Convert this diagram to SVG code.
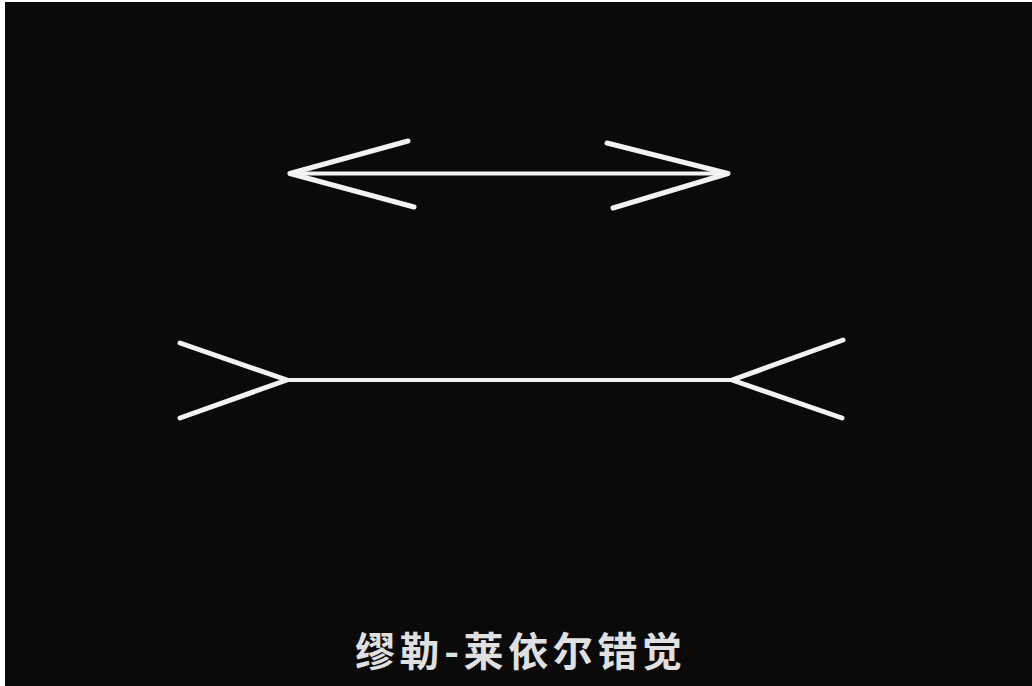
<svg xmlns="http://www.w3.org/2000/svg" width="1032" height="686" viewBox="0 0 1032 686">
<style>
.ln{stroke:#f2f2f2;stroke-linecap:round;stroke-linejoin:round;fill:none}
.fin{stroke-width:5}
.shaft{stroke-width:4}
.cap{font-family:"Noto Sans CJK SC","Noto Sans",sans-serif;font-size:40px;font-weight:bold;fill:#e0e0e0}
</style>
<rect x="0" y="0" width="1032" height="686" fill="#ffffff"/>
<rect x="5" y="2" width="1027" height="684" fill="#0a0a0a"/>
<g id="arrow-top">
<line class="ln shaft" x1="290" y1="173.5" x2="728" y2="173.5"/>
<polyline class="ln fin" points="408,141 290,173.5 414,207"/>
<polyline class="ln fin" points="607,143 728,173.5 613,208"/>
</g>
<g id="arrow-bottom">
<line class="ln shaft" x1="287" y1="380" x2="732" y2="380"/>
<polyline class="ln fin" points="180,343 287,380 180,418"/>
<polyline class="ln fin" points="843,340 732,380 842,418"/>
</g>
<g id="caption">
<text class="cap" x="355" y="666" textLength="327" lengthAdjust="spacing">缪勒-莱依尔错觉</text>
</g>
</svg>
